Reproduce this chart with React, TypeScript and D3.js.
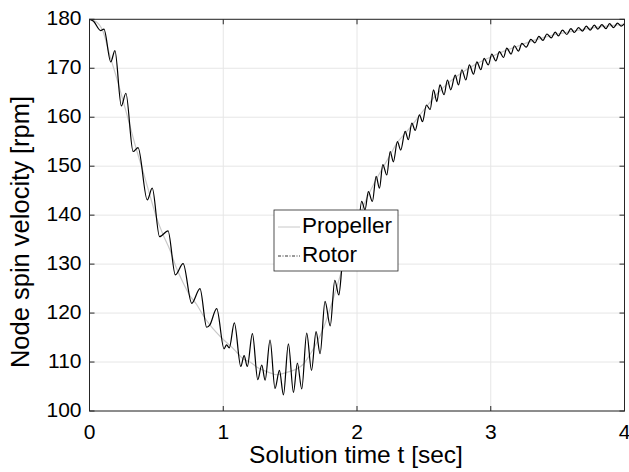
import React from "react";
import * as d3 from "d3";

const xTicks = [0, 1, 2, 3, 4];
const yTicks = [100, 110, 120, 130, 140, 150, 160, 170, 180];
const seriesNames = ["Propeller", "Rotor"];

// Propeller (smooth, light grey)
const propT = [0, 0.05, 0.1, 0.15, 0.2, 0.25, 0.3, 0.35, 0.4, 0.45, 0.5, 0.55, 0.6, 0.65, 0.7, 0.75, 0.8, 0.85, 0.9, 0.95, 1.0, 1.05, 1.1, 1.15, 1.2, 1.25, 1.3, 1.35, 1.4, 1.45, 1.5, 1.55, 1.6, 1.65, 1.7, 1.75, 1.8, 1.85, 1.9, 1.95, 2.0, 2.05, 2.1, 2.15, 2.2, 2.25, 2.3, 2.35, 2.4, 2.5, 2.6, 2.7, 2.8, 2.9, 3.0, 3.1, 3.2, 3.3, 3.4, 3.5, 3.6, 3.7, 3.8, 3.9, 4.0];
const propV = [180, 179.5, 177.6, 172.8, 168.3, 163.5, 158.5, 153.5, 149, 144.2, 139.6, 136, 133, 129.2, 126.2, 123.6, 121.8, 119.5, 117.6, 116, 114.6, 113.4, 112, 110.6, 110, 109, 108.3, 107.8, 107.4, 107.7, 108.1, 108.6, 109.6, 111.6, 114, 117, 121, 125.4, 130, 134.2, 138.2, 142, 145, 147.6, 150, 152.4, 154.8, 156.4, 158, 161.5, 164.8, 167.4, 169.4, 171, 172.3, 173.5, 174.5, 175.5, 176.3, 177, 177.5, 178, 178.4, 178.7, 179];

// Rotor (oscillating, black) — read at peaks and troughs
const rotorT = [0, 0.03, 0.084, 0.108, 0.159, 0.19, 0.238, 0.272, 0.326, 0.363, 0.432, 0.469, 0.524, 0.587, 0.642, 0.70, 0.764, 0.826, 0.876, 0.9, 0.951, 1.006, 1.025, 1.045, 1.083, 1.131, 1.156, 1.18, 1.218, 1.258, 1.288, 1.313, 1.35, 1.387, 1.42, 1.45, 1.487, 1.525, 1.554, 1.587, 1.624, 1.66, 1.694, 1.724, 1.761, 1.80, 1.834, 1.864, 1.897, 1.93, 1.963, 1.997, 2.035, 2.06, 2.085, 2.115, 2.143, 2.168, 2.193, 2.223, 2.248, 2.272, 2.302, 2.327, 2.36, 2.384, 2.41, 2.435, 2.467, 2.49, 2.519, 2.547, 2.572, 2.597, 2.62, 2.651, 2.676, 2.701, 2.734, 2.759, 2.784, 2.814, 2.84, 2.871, 2.896, 2.926, 2.95, 2.982, 3.008, 3.038, 3.065, 3.095, 3.12, 3.152, 3.177, 3.207, 3.233, 3.265, 3.30, 3.33, 3.36, 3.39, 3.42, 3.452, 3.482, 3.506, 3.536, 3.569, 3.599, 3.626, 3.656, 3.686, 3.714, 3.744, 3.774, 3.801, 3.831, 3.861, 3.888, 3.918, 3.948, 3.975, 4.0];
const rotorV = [180, 179.6, 177.7, 178.0, 171.3, 173.6, 162.3, 164.9, 153.0, 153.8, 143.1, 145.5, 135.6, 136.8, 127.8, 130.1, 122.0, 125.0, 117.1, 117.6, 120.9, 112.7, 113.5, 112.9, 118.0, 109.1, 111.3, 109.1, 115.8, 106.4, 109.4, 106.3, 114.5, 104.6, 108.3, 103.3, 113.7, 103.8, 109.8, 104.5, 115.9, 108.3, 116.2, 111.7, 122.4, 117.4, 126.7, 123.7, 131.0, 129.0, 136.0, 134.5, 142.8, 141.1, 144.8, 142.8, 147.9, 145.5, 150.3, 148.2, 153.0, 150.9, 155.0, 153.3, 157.1, 155.4, 158.8, 157.3, 160.5, 159.1, 162.5, 161.6, 165.6, 163.2, 166.6, 164.6, 167.6, 165.6, 168.6, 166.6, 169.7, 167.6, 170.7, 168.8, 171.3, 169.7, 172.0, 170.7, 172.9, 171.5, 173.4, 172.2, 174.1, 172.9, 174.6, 173.5, 175.1, 174.3, 175.9, 175.2, 176.5, 175.7, 177.0, 176.2, 177.4, 176.6, 177.8, 176.9, 178.1, 177.3, 178.3, 177.6, 178.6, 177.8, 178.8, 178.0, 178.9, 178.1, 179.1, 178.3, 179.2, 178.6, 179.1];

const W = 629;
const H = 472;
const M = { left: 89.5, right: 624.5, top: 19.3, bottom: 411 };
const FONT = "'Liberation Sans', Arial, Helvetica, sans-serif";
const AX = "#262626";

export default function App() {
  const x = d3.scaleLinear().domain([0, 4]).range([M.left, M.right]);
  const y = d3.scaleLinear().domain([100, 180]).range([M.bottom, M.top]);

  const line = d3
    .line<[number, number]>()
    .x((d) => x(d[0]))
    .y((d) => y(d[1]))
    .curve(d3.curveMonotoneX);

  const propData: [number, number][] = propT.map((t, i) => [t, propV[i]]);
  const rotorData: [number, number][] = rotorT.map((t, i) => [t, rotorV[i]]);

  const tickLen = 5;
  const lg = { x: 274, y: 210, w: 124, h: 61 };

  return (
    <svg
      width={W}
      height={H}
      style={{ position: "absolute", left: 0, top: 0, background: "#fff" }}
      fontFamily={FONT}
    >
      <rect x={0} y={0} width={W} height={H} fill="#fff" />
      {/* grid */}
      {xTicks.map((t) => (
        <line key={"gx" + t} x1={x(t)} x2={x(t)} y1={M.top} y2={M.bottom} stroke="#e6e6e6" strokeWidth={1} />
      ))}
      {yTicks.map((t) => (
        <line key={"gy" + t} x1={M.left} x2={M.right} y1={y(t)} y2={y(t)} stroke="#e6e6e6" strokeWidth={1} />
      ))}
      {/* series */}
      <path d={line(propData) || ""} fill="none" stroke="#c8c8c8" strokeWidth={1.2} />
      <path d={line(rotorData) || ""} fill="none" stroke="#000" strokeWidth={1.2} />
      {/* box */}
      <rect x={M.left} y={M.top} width={M.right - M.left} height={M.bottom - M.top} fill="none" stroke={AX} strokeWidth={1} />
      {/* ticks */}
      {xTicks.map((t) => (
        <g key={"tx" + t}>
          <line x1={x(t)} x2={x(t)} y1={M.bottom} y2={M.bottom - tickLen} stroke={AX} />
          <line x1={x(t)} x2={x(t)} y1={M.top} y2={M.top + tickLen} stroke={AX} />
          <text x={x(t)} y={433} textAnchor="middle" dominantBaseline="middle" fontSize={21} fill="#000">
            {t}
          </text>
        </g>
      ))}
      {yTicks.map((t) => (
        <g key={"ty" + t}>
          <line x1={M.left} x2={M.left + tickLen} y1={y(t)} y2={y(t)} stroke={AX} />
          <line x1={M.right} x2={M.right - tickLen} y1={y(t)} y2={y(t)} stroke={AX} />
          <text x={81.5} y={y(t)} textAnchor="end" dominantBaseline="middle" fontSize={21} fill="#000">
            {t}
          </text>
        </g>
      ))}
      {/* axis labels */}
      <text x={356} y={457} textAnchor="middle" dominantBaseline="middle" fontSize={24.5} fill="#000">
        Solution time t [sec]
      </text>
      <text
        transform={`translate(22, 232) rotate(-90)`}
        textAnchor="middle"
        dominantBaseline="middle"
        fontSize={25.5}
        fill="#000"
      >
        Node spin velocity [rpm]
      </text>
      {/* legend */}
      <rect x={lg.x} y={lg.y} width={lg.w} height={lg.h} fill="#fff" stroke={AX} strokeWidth={0.8} />
      <line x1={lg.x + 4} x2={lg.x + 26} y1={lg.y + 17} y2={lg.y + 17} stroke="#c8c8c8" strokeWidth={1} />
      <text x={lg.x + 28} y={lg.y + 17} dominantBaseline="middle" fontSize={22.5} fill="#000">
        {seriesNames[0]}
      </text>
      <line x1={lg.x + 4} x2={lg.x + 26} y1={lg.y + 46} y2={lg.y + 46} stroke="#000" strokeWidth={0.8} strokeDasharray="3,1.5,1,1.5" />
      <text x={lg.x + 28} y={lg.y + 46} dominantBaseline="middle" fontSize={22.5} fill="#000">
        {seriesNames[1]}
      </text>
    </svg>
  );
}
